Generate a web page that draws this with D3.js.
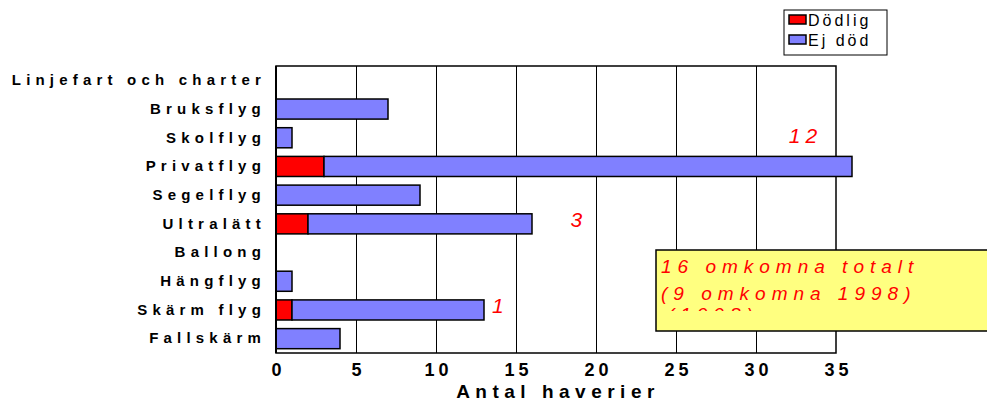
<!DOCTYPE html>
<html>
<head>
<meta charset="utf-8">
<script src="https://cdn.jsdelivr.net/npm/d3@7/dist/d3.min.js"></script>
<style>
  html, body { margin: 0; padding: 0; background: #fff; }
  svg { display: block; font-family: "Liberation Sans", Arial, sans-serif; }
</style>
</head>
<body>
<svg id="chart" width="987" height="403"></svg>
<script>
// Haverier per verksamhet
const categories = ["Linjefart och charter", "Bruksflyg", "Skolflyg", "Privatflyg", "Segelflyg",
                    "Ultralätt", "Ballong", "Hängflyg", "Skärm flyg", "Fallskärm"];
const dodlig = [0, 0, 0, 3, 0, 2, 0, 0, 1, 0];
const ejDod  = [0, 7, 1, 33, 9, 14, 0, 1, 12, 4];
const seriesNames = ["Dödlig", "Ej död"];
const seriesColors = ["#ff0000", "#8080ff"];
const xTicks = [0, 5, 10, 15, 20, 25, 30, 35];
// number killed, placed along the x scale
const omkomna = [{cat: "Privatflyg", label: "12", at: 32.05, dy: -29},
                 {cat: "Ultralätt", label: "3", at: 18.4, dy: -2},
                 {cat: "Skärm flyg", label: "1", at: 13.5, dy: -2}];
const noteLines = ["16 omkomna totalt", "(9 omkomna 1998)", "(1998)"];

const svg = d3.select("#chart");
const m = {left: 276, right: 836, top: 66, bottom: 353};

const x = d3.scaleLinear().domain([0, 35]).range([m.left, m.right]);
const y = d3.scaleBand().domain(categories).range([m.top, m.bottom]).paddingInner(0.3).paddingOuter(0.15);

// gridlines
svg.append("g").selectAll("line").data(xTicks.slice(1, -1)).join("line")
  .attr("x1", d => x(d)).attr("x2", d => x(d))
  .attr("y1", m.top).attr("y2", m.bottom)
  .attr("stroke", "#000").attr("stroke-width", 1).attr("shape-rendering", "crispEdges");

// frame
svg.append("rect").attr("x", m.left).attr("y", m.top)
  .attr("width", m.right - m.left).attr("height", m.bottom - m.top)
  .attr("fill", "none").attr("stroke", "#000").attr("stroke-width", 1.5);

// stacked bars
const stacked = d3.stack().keys([0, 1]).value((d, k) => d[k])(categories.map((c, i) => [dodlig[i], ejDod[i]]));
stacked.forEach((layer, k) => {
  svg.append("g").selectAll("rect").data(layer).join("rect")
    .attr("x", d => x(d[0]))
    .attr("y", (d, i) => y(categories[i]))
    .attr("width", d => x(d[1]) - x(d[0]))
    .attr("height", y.bandwidth())
    .attr("fill", seriesColors[k])
    .attr("stroke", d => (d[1] - d[0]) > 0 ? "#000" : "none")
    .attr("stroke-width", 1.5);
});

// left axis line
svg.append("line").attr("x1", m.left).attr("x2", m.left).attr("y1", m.top).attr("y2", m.bottom)
  .attr("stroke", "#000").attr("stroke-width", 2);

// category labels
const yAxis = svg.append("g").attr("transform", `translate(${m.left},0)`)
  .call(d3.axisLeft(y).tickSize(0).tickPadding(10));
yAxis.select(".domain").remove();
yAxis.selectAll("text").attr("font-size", 15).attr("font-weight", "bold")
  .attr("letter-spacing", "5.2px").attr("fill", "#000").attr("font-family", "Liberation Sans, Arial, sans-serif");

// x axis
const xAxis = svg.append("g").attr("transform", `translate(0,${m.bottom})`)
  .call(d3.axisBottom(x).tickValues(xTicks).tickSize(0).tickPadding(10));
xAxis.select(".domain").remove();
xAxis.selectAll("text").attr("font-size", 18).attr("font-weight", "bold")
  .attr("letter-spacing", "4px").attr("dx", "2px").attr("fill", "#000")
  .attr("font-family", "Liberation Sans, Arial, sans-serif");

svg.append("text").attr("x", 558).attr("y", 398)
  .attr("text-anchor", "middle").attr("font-size", 19).attr("font-weight", "bold")
  .attr("letter-spacing", "5.5px").text("Antal haverier");

// fatality annotations
svg.append("g").selectAll("text").data(omkomna).join("text")
  .attr("x", d => x(d.at))
  .attr("y", d => y(d.cat) + y.bandwidth() / 2 + d.dy)
  .attr("fill", "#ff0000").attr("font-size", 21).attr("font-style", "italic")
  .attr("letter-spacing", "5px").attr("dominant-baseline", "middle")
  .text(d => d.label);

// note box; the overflowing third line is clipped by the box's text area
const note = svg.append("g");
note.append("clipPath").attr("id", "noteClip").append("rect")
  .attr("x", 656).attr("y", 250).attr("width", 340).attr("height", 61);
note.append("rect").attr("x", 656).attr("y", 250).attr("width", 340).attr("height", 81)
  .attr("fill", "#ffff80").attr("stroke", "#000").attr("stroke-width", 1.5);
note.append("g").attr("clip-path", "url(#noteClip)").selectAll("text").data(noteLines).join("text")
  .attr("x", (d, i) => i === 2 ? 668 : 661)
  .attr("y", (d, i) => [273, 300, 321][i])
  .attr("fill", "#ff0000").attr("font-size", 19).attr("font-style", "italic")
  .attr("letter-spacing", "6px").text(d => d);

// legend
const lg = svg.append("g");
lg.append("rect").attr("x", 784).attr("y", 10).attr("width", 103).attr("height", 45)
  .attr("fill", "#fff").attr("stroke", "#000").attr("stroke-width", 1);
seriesNames.forEach((n, i) => {
  lg.append("rect").attr("x", 789).attr("y", 15 + i * 20).attr("width", 17).attr("height", 9)
    .attr("fill", seriesColors[i]).attr("stroke", "#000").attr("stroke-width", 1.5);
  lg.append("text").attr("x", 808).attr("y", 26 + i * 20).attr("font-size", 16)
    .attr("letter-spacing", "3px").text(n);
});
</script>
</body>
</html>
